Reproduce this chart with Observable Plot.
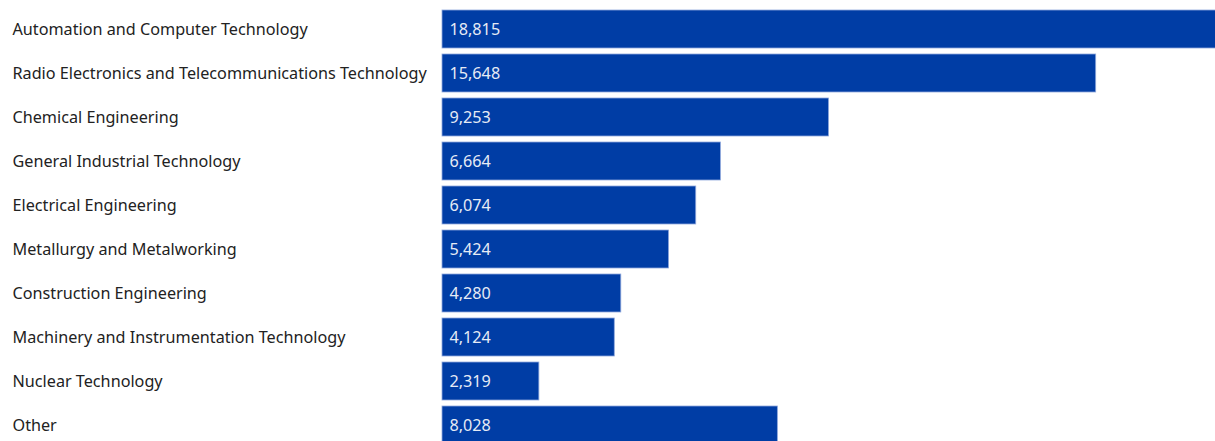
<!DOCTYPE html>
<html>
<head>
<meta charset="utf-8">
<script src="https://cdn.jsdelivr.net/npm/d3@7"></script>
<script src="https://cdn.jsdelivr.net/npm/@observablehq/plot@0.6"></script>
<style>
  html, body { margin: 0; padding: 0; overflow: hidden; background: #fff; }
  #chart svg { display: block; max-width: none !important; }
</style>
</head>
<body>
<div id="chart"></div>
<script>
const categories = [
  "Automation and Computer Technology",
  "Radio Electronics and Telecommunications Technology",
  "Chemical Engineering",
  "General Industrial Technology",
  "Electrical Engineering",
  "Metallurgy and Metalworking",
  "Construction Engineering",
  "Machinery and Instrumentation Technology",
  "Nuclear Technology",
  "Other"
];
const values = [18815, 15648, 9253, 6664, 6074, 5424, 4280, 4124, 2319, 8028];

const data = categories.map((c, i) => ({category: c, value: values[i]}));
const fmt = d3.format(",");

const chart = Plot.plot({
  width: 1228,
  height: 446,
  marginLeft: 442,
  marginRight: 0,
  marginTop: 10,
  marginBottom: 0,
  style: {fontFamily: "'Noto Sans', sans-serif", fontSize: "16px", background: "#fff", maxWidth: "none"},
  x: {domain: [0, 18815], axis: null},
  y: {domain: categories, axis: null, paddingInner: 0.134, paddingOuter: 0, align: 0},
  marks: [
    Plot.barX(data, {
      y: "category", x: "value",
      fill: "#003DA5", stroke: "#8fa8dc", strokeWidth: 0.8
    }),
    Plot.text(data, {
      y: "category", x: 0, text: d => fmt(d.value),
      textAnchor: "start", dx: 7, fill: "#e6ebf5", fontSize: 16.2
    }),
    Plot.text(data, {
      y: "category", x: 0, text: "category",
      textAnchor: "start", dx: -430, fill: "#222", fontSize: 16.2
    })
  ]
});
document.getElementById("chart").appendChild(chart);
</script>
</body>
</html>
